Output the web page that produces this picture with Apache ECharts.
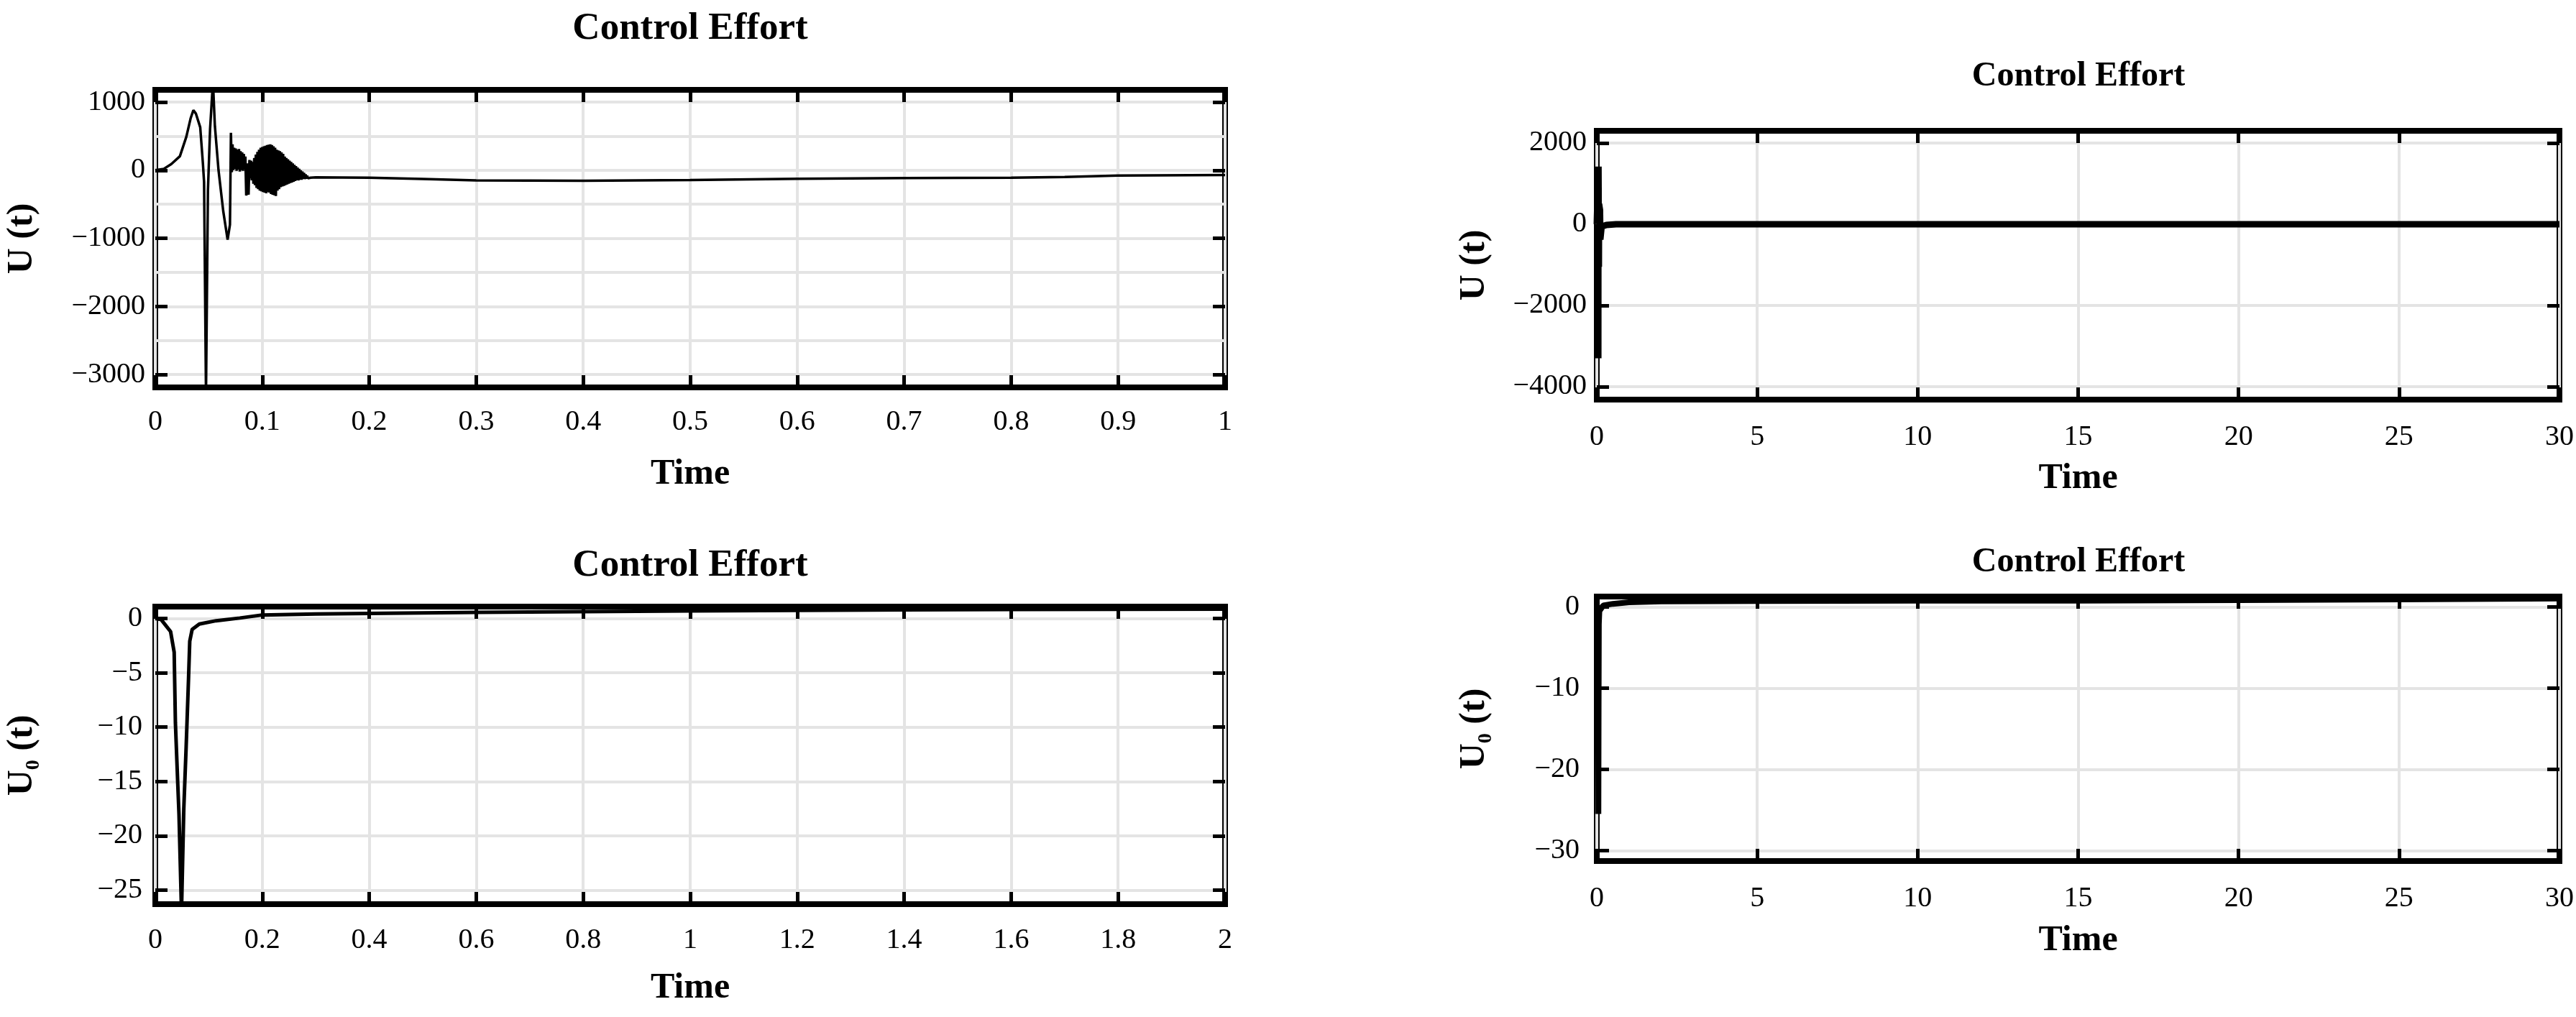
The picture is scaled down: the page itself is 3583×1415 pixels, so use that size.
<!DOCTYPE html>
<html>
<head>
<meta charset="utf-8">
<script src="https://cdn.jsdelivr.net/npm/echarts@6/dist/echarts.min.js"></script>
<style>
html,body{margin:0;padding:0;background:#fff;}
#c{width:3583px;height:1415px;}
</style>
</head>
<body>
<div id="c"></div>
<script>
// ---------------- texts ----------------
const titleText = 'Control Effort';
const xName = 'Time';
const yName1 = 'U (t)';
const yName2 = 'U (t)';
const yName3 = '{b|U}{s|0}{b| (t)}';
const yName4 = '{b|U}{s|0}{b| (t)}';

// ---------------- tick values ----------------
const x1Ticks = [0, 0.1, 0.2, 0.3, 0.4, 0.5, 0.6, 0.7, 0.8, 0.9, 1];
const y1Labels = [-3000, -2000, -1000, 0, 1000];
const y1Grid = [-3000, -2500, -2000, -1500, -1000, -500, 0, 500, 1000];

const x2Ticks = [0, 5, 10, 15, 20, 25, 30];
const y2Ticks = [-4000, -2000, 0, 2000];

const x3Ticks = [0, 0.2, 0.4, 0.6, 0.8, 1, 1.2, 1.4, 1.6, 1.8, 2];
const y3Ticks = [-25, -20, -15, -10, -5, 0];

const x4Ticks = [0, 5, 10, 15, 20, 25, 30];
const y4Ticks = [-30, -20, -10, 0];

// ---------------- series values [time, value] ----------------
const u1Data = [
 [0,0],[0.008,20],[0.015,90],[0.023,205],[0.029,490],[0.033,760],[0.0356,880],[0.038,830],[0.042,630],[0.0445,100],[0.0456,-175],[0.0474,-3300],[0.0492,-300],[0.0512,600],[0.0539,1300],[0.0557,650],[0.0591,0],[0.0635,-600],[0.0676,-1020],[0.0698,-800],[0.0707,550],
 [0.0715,-30],[0.0722,380],[0.073,0],[0.0737,330],[0.0745,20],[0.0752,320],[0.076,-10],[0.0767,300],[0.0775,10],[0.0782,310],[0.079,-20],[0.0797,280],[0.0805,0],[0.0812,260],[0.082,-10],[0.0827,240],[0.0835,20],[0.0842,200],[0.085,-370],[0.0857,-330],[0.0865,100],[0.0872,-360],[0.088,150],[0.0887,-120],[0.0895,140],[0.0902,-150],[0.091,120],[0.0917,-200],[0.0925,180],[0.0932,-220],[0.094,230],[0.0947,-260],[0.0955,270],[0.0962,-280],[0.097,300],[0.0977,-300],[0.0985,330],[0.0992,-310],[0.1,340],[0.1007,-320],[0.1015,350],[0.1022,-330],[0.103,360],[0.1037,-340],[0.1045,370],[0.1052,-320],[0.106,375],[0.1067,-330],[0.1075,380],[0.1082,-350],[0.109,370],[0.1097,-360],[0.1105,350],[0.1112,-370],[0.112,330],[0.1127,-380],[0.1135,300],[0.1142,-300],[0.115,290],[0.1157,-280],[0.1165,280],[0.1172,-250],[0.118,260],[0.1187,-240],[0.1195,240],[0.1202,-230],[0.121,200],[0.1217,-220],[0.1225,180],[0.1232,-210],[0.124,160],[0.1247,-200],[0.1255,140],[0.1262,-190],[0.127,120],[0.1277,-180],[0.1285,100],[0.1292,-170],[0.13,80],[0.1307,-160],[0.1315,60],[0.1322,-150],[0.133,40],[0.1337,-150],[0.1345,20],[0.1352,-140],[0.136,0],[0.1367,-140],[0.1375,-20],[0.1382,-130],[0.139,-40],[0.1397,-130],[0.1405,-60],[0.1412,-125],[0.142,-80],[0.1427,-120],[0.1435,-100],[0.145,-110],
 [0.15,-105],[0.2,-110],[0.25,-130],[0.3,-150],[0.4,-155],[0.5,-145],[0.6,-125],[0.7,-115],[0.8,-110],[0.85,-100],[0.9,-80],[1,-70]
];

const u2Data = [
 [0,0],[0.03,880],[0.045,-300],[0.047,-3300],[0.049,-300],[0.053,1420],[0.065,-1050],[0.07,500],[0.1,350],[0.11,-380],[0.15,-60],[0.3,-20],[0.6,0],[5,0],[10,0],[15,0],[20,0],[25,0],[30,0]
];

const u3Data = [
 [0,0],[0.011,-0.1],[0.0286,-1.2],[0.0353,-3.1],[0.0376,-9.6],[0.042,-15.2],[0.0443,-18],[0.049,-27],[0.0515,-27],[0.0533,-17.5],[0.0577,-11.8],[0.0621,-5.6],[0.0644,-2.1],[0.0689,-1.0],[0.0823,-0.5],[0.1137,-0.2],[0.158,0.05],[0.2,0.33],[0.3,0.42],[0.4,0.47],[0.6,0.57],[0.8,0.64],[1.0,0.71],[1.2,0.76],[1.4,0.8],[1.6,0.83],[1.8,0.85],[2.0,0.87]
];

const u4Data = [
 [0,0],[0.03,-1.2],[0.04,-10],[0.05,-25.5],[0.057,-12],[0.064,-2.1],[0.08,-0.5],[0.2,0.2],[0.5,0.4],[1,0.6],[2,0.7],[5,0.75],[10,0.8],[15,0.8],[20,0.85],[25,0.95],[30,1.05]
];

// ---------------- layout ----------------
const FONT = "'Liberation Serif','Times New Roman',Times,serif";
const GRIDCOL = '#e4e4e4';

const panels = [
  {left:216, top:125, width:1488, height:414, xMin:0, xMax:1, yMin:-3190, yMax:1180,
   xTicks:x1Ticks, xGrid:x1Ticks, yLabels:y1Labels, yGrid:y1Grid, yTicks:y1Labels,
   data:u1Data, lw:3.5, yName:yName1, yGap:160, xGap:96, xMargin:28, yMargin:14,
   title:{x:960, y:40, size:53}},
  {left:2221, top:182, width:1340, height:374, xMin:0, xMax:30, yMin:-4320, yMax:2300,
   xTicks:x2Ticks, xGrid:x2Ticks, yLabels:y2Ticks, yGrid:y2Ticks, yTicks:y2Ticks,
   data:u2Data, lw:9, yName:yName2, yGap:145, xGap:85, xMargin:32, yMargin:14,
   title:{x:2891, y:107, size:48}},
  {left:216, top:844, width:1488, height:414, xMin:0, xMax:2, yMin:-26.3, yMax:1.1,
   xTicks:x3Ticks, xGrid:x3Ticks, yLabels:y3Ticks, yGrid:y3Ticks, yTicks:y3Ticks,
   data:u3Data, lw:5, yName:yName3, yGap:155, xGap:92, xMargin:30, yMargin:18,
   title:{x:960, y:787, size:53}},
  {left:2221, top:830, width:1340, height:368, xMin:0, xMax:30, yMin:-31.3, yMax:1.3,
   xTicks:x4Ticks, xGrid:x4Ticks, yLabels:y4Ticks, yGrid:y4Ticks, yTicks:y4Ticks,
   data:u4Data, lw:8, yName:yName4, yGap:140, xGap:86, xMargin:32, yMargin:24,
   title:{x:2891, y:783, size:48}}
];

const fmt = v => String(v).replace('-', '\u2212');
const labelStyle = {color:'#000', fontFamily:FONT, fontSize:40};
const nameStyle = {color:'#000', fontFamily:FONT, fontSize:50, fontWeight:'bold',
  rich:{
    b:{color:'#000', fontFamily:FONT, fontSize:50, fontWeight:'bold', lineHeight:60},
    s:{color:'#000', fontFamily:FONT, fontSize:28, fontWeight:'bold', lineHeight:30, verticalAlign:'bottom'}
  }};

const grids = [], xAxes = [], yAxes = [], series = [], graphics = [];

panels.forEach((p, gi) => {
  grids.push({left:p.left, top:p.top, width:p.width, height:p.height, show:true,
    borderColor:'#000', borderWidth:8, backgroundColor:'transparent', containLabel:false});
  const none = {gridIndex:gi, type:'value', axisLine:{show:false, onZero:false},
    splitLine:{show:false}, axisLabel:{show:false}, axisTick:{show:false}};
  const tickStyle = (vals) => ({show:true, inside:true, length:17, customValues:vals,
    lineStyle:{color:'#000', width:5}});
  // x main (labels, grid lines, name)
  xAxes.push(Object.assign({}, none, {min:p.xMin, max:p.xMax, position:'bottom',
    axisLabel:Object.assign({show:true, customValues:p.xTicks, margin:p.xMargin, formatter:fmt}, labelStyle),
    axisTick:{show:false, customValues:p.xGrid},
    splitLine:{show:true, lineStyle:{color:GRIDCOL, width:4}},
    name:xName, nameLocation:'middle', nameGap:p.xGap, nameTextStyle:nameStyle}));
  // x bottom ticks
  xAxes.push(Object.assign({}, none, {min:p.xMin, max:p.xMax, position:'bottom', axisTick:tickStyle(p.xTicks)}));
  // x top ticks
  xAxes.push(Object.assign({}, none, {min:p.xMin, max:p.xMax, position:'top', axisTick:tickStyle(p.xTicks)}));
  // y main
  yAxes.push(Object.assign({}, none, {min:p.yMin, max:p.yMax, position:'left',
    axisLabel:Object.assign({show:true, customValues:p.yLabels, margin:p.yMargin, formatter:fmt}, labelStyle),
    axisTick:{show:false, customValues:p.yGrid},
    splitLine:{show:true, lineStyle:{color:GRIDCOL, width:4}},
    name:p.yName, nameLocation:'middle', nameRotate:90, nameGap:p.yGap, nameTextStyle:nameStyle}));
  yAxes.push(Object.assign({}, none, {min:p.yMin, max:p.yMax, position:'left', axisTick:tickStyle(p.yTicks)}));
  yAxes.push(Object.assign({}, none, {min:p.yMin, max:p.yMax, position:'right', axisTick:tickStyle(p.yTicks)}));

  series.push({type:'line', xAxisIndex:gi*3, yAxisIndex:gi*3, data:p.data, showSymbol:false,
    symbol:'none', clip:true, lineStyle:{color:'#000', width:p.lw}, z:3, animation:false});

  graphics.push({type:'text', x:p.title.x, y:p.title.y, z:10,
    style:{text:titleText, fill:'#000', font:'bold ' + p.title.size + 'px ' + FONT,
      textAlign:'center', textVerticalAlign:'middle', align:'center', verticalAlign:'middle'}});
});

const chart = echarts.init(document.getElementById('c'), null, {renderer:'canvas'});
chart.setOption({
  animation:false,
  backgroundColor:'#fff',
  grid:grids, xAxis:xAxes, yAxis:yAxes, series:series, graphic:graphics
});
</script>
</body>
</html>
